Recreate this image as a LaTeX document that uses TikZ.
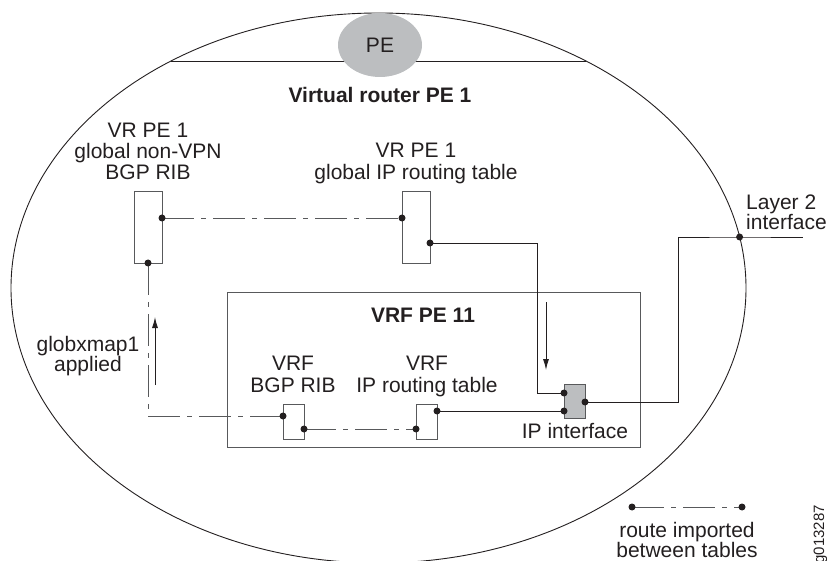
\documentclass[tikz,border=0pt]{standalone}
\usepackage{fontspec}
\setmainfont{Liberation Sans}
\usetikzlibrary{arrows.meta,shapes.geometric}
\definecolor{ink}{HTML}{231F20}
\definecolor{ln}{HTML}{58595B}
\definecolor{fillg}{HTML}{BCBEC0}
\begin{document}
\begin{tikzpicture}[x=1pt,y=-1pt,
  lbl/.style={font=\fontsize{21}{22}\selectfont, text=ink, inner sep=0pt, anchor=base},
  blbl/.style={lbl, font=\fontsize{21}{22}\selectfont\bfseries},
  tbl/.style={draw=ln, line width=0.9pt, inner sep=0pt, minimum width=28pt, minimum height=72pt},
  stbl/.style={draw=ln, line width=0.9pt, inner sep=0pt, minimum width=21pt, minimum height=35pt},
  imp/.style={draw=ln, line width=0.9pt, dash pattern=on 32pt off 7pt on 5pt off 7pt},
  wire/.style={draw=ink, line width=0.9pt},
  dot/.style={circle, fill=ink, inner sep=0pt, minimum size=7pt},
  flow/.style={draw=ink, line width=0.9pt, -{Latex[length=11pt,width=6pt]}}
]
\useasboundingbox (0,0) rectangle (827,561);
\clip (0,0) rectangle (827,561);

% outer router ellipse and top chord
\draw[ink, line width=0.9pt] (378.5,288) ellipse [x radius=367.5pt, y radius=275pt];
\draw[ink, line width=0.9pt] (171.1,61) -- (585.9,61);
\node (pe) [ellipse, fill=fillg, minimum width=84pt, minimum height=64pt, inner sep=0pt,
  font=\fontsize{21}{22}\selectfont, text=ink] at (380,45) {PE};

\node (title) [blbl] at (380,103) {Virtual router PE 1};

% VRF box
\node (vrf) [draw=ln, line width=0.9pt, inner sep=0pt, minimum width=413pt, minimum height=155pt] at (433.5,369.5) {};
\node (vrft) [blbl] at (423,323) {VRF PE 11};

% tables
\node (gbgp) [tbl] at (148,227.5) {};
\node (grt)  [tbl] at (416,227) {};
\node (vbgp) [stbl] at (293.5,421.5) {};
\node (vrt)  [stbl] at (426.5,421.5) {};
\node (ipif) [draw=ln, fill=fillg, line width=0.9pt, inner sep=0pt, minimum width=21pt, minimum height=34pt] at (574.5,401) {};

% labels
\node (ga) [lbl] at (148,138) {VR PE 1};
\node (gb) [lbl] at (148,159) {global non-VPN};
\node (gc) [lbl] at (148,180) {BGP RIB};
\node (ra) [lbl] at (416,158) {VR PE 1};
\node (rb) [lbl] at (416,180) {global IP routing table};
\node (va) [lbl] at (293,370) {VRF};
\node (vb) [lbl] at (293,392) {BGP RIB};
\node (wa) [lbl] at (427,370) {VRF};
\node (wb) [lbl] at (427,392) {IP routing table};
\node (ipl) [lbl] at (575,438) {IP interface};
\node (l2a) [lbl, anchor=base west] at (746,210) {Layer 2};
\node (l2b) [lbl, anchor=base west] at (746,230) {interface};
\node (gxa) [lbl] at (88,351) {globxmap1};
\node (gxb) [lbl] at (88,371) {applied};
\node (lga) [lbl] at (687,537) {route imported};
\node (lgb) [lbl] at (687,557) {between tables};
\node (fig) [font=\fontsize{15}{16}\selectfont, text=ink, inner sep=0pt, rotate=90, anchor=base east] at (824,505) {g013287};

% connection points
\coordinate (d1) at (162,218);
\coordinate (d2) at (148,263);
\coordinate (d3) at (402,218);
\coordinate (d4) at (430,243);
\coordinate (d5) at (283,416);
\coordinate (d6) at (304,429);
\coordinate (d7) at (416,429);
\coordinate (d8) at (437,411);
\coordinate (d9) at (564,393);
\coordinate (d10) at (564,411);
\coordinate (d11) at (585,402);
\coordinate (d12) at (739.6,237);
\coordinate (c1) at (537,393);
\coordinate (c2) at (678,237);
\coordinate (l2end) at (803,237);
\coordinate (k1) at (632,507);
\coordinate (k2) at (742,507);

% connectors
\draw[imp] (d1) -- (d3);
\draw[imp] (d2) |- (d5);
\draw[imp] (d6) -- (d7);
\draw[imp] (k1) -- (k2);
\draw[wire] (d4) -| (c1) -- (d9);
\draw[wire] (d8) -- (d10);
\draw[wire] (d11) -| (c2) -- (d12) -- (l2end);

% flow arrows
\coordinate (ua1) at (155,385);
\coordinate (ua2) at (155,317);
\coordinate (da1) at (546,302);
\coordinate (da2) at (546,370);
\draw[flow] (ua1) -- (ua2);
\draw[flow] (da1) -- (da2);

% dots
\foreach \p in {d1,d2,d3,d4,d5,d6,d7,d8,d9,d10,d11,d12,k1,k2}
  \node (dot-\p) [dot] at (\p) {};
\end{tikzpicture}
\end{document}
